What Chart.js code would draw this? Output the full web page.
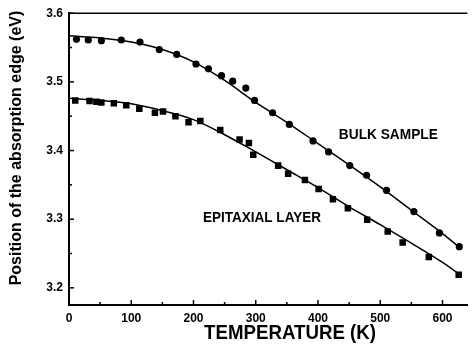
<!DOCTYPE html>
<html>
<head>
<meta charset="utf-8">
<script src="https://cdn.jsdelivr.net/npm/chart.js@4.4.1/dist/chart.umd.min.js"></script>
<style>
  html, body { margin: 0; padding: 0; background: #fff; }
  #wrap { width: 472px; height: 346px; }
</style>
</head>
<body>
<div id="wrap"><canvas id="chart"></canvas></div>
<script>
// measured points, bulk sample (circles)
var bulkTemps  = [12, 31, 52, 84, 114, 145, 173, 204, 224, 245, 263, 284, 298, 327, 354, 392, 417, 451, 478, 510, 554, 595, 627];
var bulkEnergy = [3.562, 3.561, 3.560, 3.561, 3.558, 3.547, 3.540, 3.526, 3.519, 3.509, 3.501, 3.491, 3.473, 3.455, 3.438, 3.414, 3.398, 3.378, 3.364, 3.342, 3.311, 3.280, 3.260];

// measured points, epitaxial layer (squares)
var epiTemps  = [10, 33, 44, 52, 72, 92, 113, 138, 151, 171, 192, 211, 243, 274, 289, 296, 336, 352, 379, 401, 424, 448, 479, 512, 536, 578, 626];
var epiEnergy = [3.473, 3.472, 3.471, 3.470, 3.469, 3.466, 3.461, 3.455, 3.457, 3.450, 3.441, 3.443, 3.430, 3.416, 3.411, 3.394, 3.378, 3.366, 3.357, 3.344, 3.329, 3.316, 3.299, 3.282, 3.266, 3.245, 3.219];

// fitted curves
var fitTemps = [0, 50, 100, 150, 200, 250, 300, 350, 400, 450, 500, 550, 600, 630];
var bulkFit  = [3.567, 3.564, 3.558, 3.547, 3.529, 3.502, 3.470, 3.441, 3.410, 3.379, 3.347, 3.313, 3.279, 3.257];
var epiFit   = [3.476, 3.473, 3.468, 3.458, 3.445, 3.423, 3.398, 3.372, 3.346, 3.318, 3.292, 3.265, 3.237, 3.218];

var xTicks = [0, 100, 200, 300, 400, 500, 600];
var yTicks = [3.2, 3.3, 3.4, 3.5, 3.6];

function pairs(xs, ys) {
    return xs.map(function(x, i) { return { x: x, y: ys[i] }; });
}

// draw text squeezed to a given width (the original uses a narrow face)
function narrowText(ctx, text, x, y, width) {
    var w = ctx.measureText(text).width;
    ctx.save();
    ctx.translate(x, y);
    ctx.scale(Math.min(1, width / w), 1);
    ctx.fillText(text, 0, 0);
    ctx.restore();
}

// inner ticks, top frame line, labels and axis titles
var decorations = {
    id: 'decorations',
    afterDraw: function(chart) {
        var ctx = chart.ctx;
        var xs = chart.scales.x, ys = chart.scales.y;
        var area = chart.chartArea;
        ctx.save();
        ctx.strokeStyle = '#000';
        ctx.lineWidth = 1.5;
        ctx.beginPath();
        ctx.moveTo(area.left, area.top);
        ctx.lineTo(area.right, area.top);
        ctx.stroke();

        // x ticks, pointing up
        xTicks.forEach(function(t) {
            [t, t + 50].forEach(function(v, k) {
                if (v > xs.max) return;
                var px = xs.getPixelForValue(v);
                ctx.beginPath();
                ctx.moveTo(px, area.bottom);
                ctx.lineTo(px, area.bottom - (k === 0 ? 5 : 3));
                ctx.stroke();
            });
        });
        // y ticks, pointing right
        yTicks.forEach(function(t) {
            [t, t - 0.05].forEach(function(v, k) {
                if (v < ys.min) return;
                var py = ys.getPixelForValue(v);
                ctx.beginPath();
                ctx.moveTo(area.left, py);
                ctx.lineTo(area.left + (k === 0 ? 5 : 3), py);
                ctx.stroke();
            });
        });

        ctx.fillStyle = '#000';
        ctx.textAlign = 'center';
        ctx.textBaseline = 'middle';
        ctx.font = 'bold 14px "Liberation Sans", Arial, sans-serif';
        narrowText(ctx, 'BULK SAMPLE', xs.getPixelForValue(513), ys.getPixelForValue(3.423), 99);
        narrowText(ctx, 'EPITAXIAL LAYER', xs.getPixelForValue(310), ys.getPixelForValue(3.302), 118);

        // x title
        ctx.font = 'bold 21px "Liberation Sans", Arial, sans-serif';
        narrowText(ctx, 'TEMPERATURE (K)', 290, 333, 172);

        // y title
        ctx.font = 'bold 16px "Liberation Sans", Arial, sans-serif';
        ctx.save();
        ctx.translate(17, 148);
        ctx.rotate(-Math.PI / 2);
        narrowText(ctx, 'Position of the absorption edge (eV)', 0, 0, 279);
        ctx.restore();
        ctx.restore();
    }
};

var tickFont = { family: '"Liberation Sans", Arial, sans-serif', size: 12, weight: 'bold' };

new Chart(document.getElementById('chart'), {
    type: 'scatter',
    data: {
        datasets: [
            {
                type: 'line', data: pairs(fitTemps, bulkFit), borderColor: '#000',
                borderWidth: 1.5, pointRadius: 0, cubicInterpolationMode: 'monotone', fill: false
            },
            {
                type: 'line', data: pairs(fitTemps, epiFit), borderColor: '#000',
                borderWidth: 1.5, pointRadius: 0, cubicInterpolationMode: 'monotone', fill: false
            },
            {
                data: pairs(bulkTemps, bulkEnergy), pointStyle: 'circle', pointRadius: 3.6,
                backgroundColor: '#000', borderColor: '#000', borderWidth: 0
            },
            {
                data: pairs(epiTemps, epiEnergy), pointStyle: 'rect', pointRadius: 4.6,
                backgroundColor: '#000', borderColor: '#000', borderWidth: 0
            }
        ]
    },
    options: {
        responsive: true,
        maintainAspectRatio: false,
        animation: false,
        layout: { padding: { left: 0, top: 13, right: 0, bottom: 0 } },
        plugins: { legend: { display: false }, tooltip: { enabled: false } },
        scales: {
            x: {
                type: 'linear', min: 0, max: 640,
                grid: { display: false, drawTicks: false },
                border: { display: true, color: '#000', width: 2 },
                ticks: { color: '#000', font: tickFont, padding: 6, maxRotation: 0 },
                afterBuildTicks: function(s) { s.ticks = xTicks.map(function(v) { return { value: v }; }); },
                afterFit: function(s) { s.height = 41; }
            },
            y: {
                type: 'linear', min: 3.175, max: 3.6,
                grid: { display: false, drawTicks: false },
                border: { display: true, color: '#000', width: 2 },
                ticks: { color: '#000', font: tickFont, padding: 6, callback: function(v) { return v.toFixed(1); } },
                afterBuildTicks: function(s) { s.ticks = yTicks.map(function(v) { return { value: v }; }); },
                afterFit: function(s) { s.width = 69; }
            }
        }
    },
    plugins: [decorations]
});
</script>
</body>
</html>
